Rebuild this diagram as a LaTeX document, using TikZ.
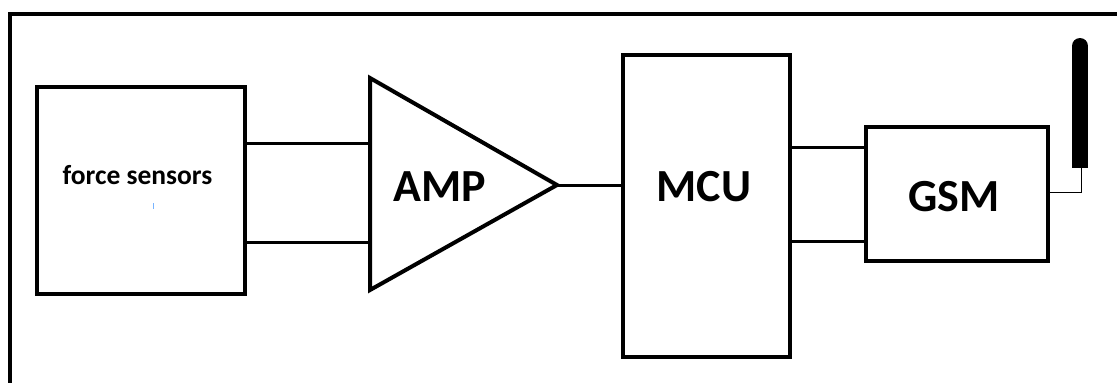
\documentclass[tikz,border=0pt]{standalone}
\usepackage{fontspec}
\setmainfont{Carlito}
\begin{document}
\begin{tikzpicture}[x=1pt,y=-1pt,
  blk/.style={draw=black,line width=4pt,fill=white,inner sep=0pt},
  wire/.style={draw=black,line width=3pt},
  biglbl/.style={font=\fontsize{46}{46}\selectfont\bfseries},
  smalllbl/.style={font=\fontsize{27.5}{27.5}\selectfont\bfseries}]
\useasboundingbox (0,0) rectangle (1117,383);
% outer frame (only left and top edges visible)
\draw[line width=4pt] (10,390) -- (10,13.5) -- (1125,13.5);
% blocks
\node[blk,minimum width=208pt,minimum height=207pt] (fs) at (141,190.5) {};
\node[smalllbl] (fstxt) at (137.5,175) {force sensors};
\draw[draw={rgb,255:red,120;green,180;blue,255},line width=1pt] (153,203) -- (153,209);
\coordinate (ampTop) at (370,78);
\coordinate (ampBot) at (370,290);
\coordinate (ampTip) at (557,185);
\draw[line width=4pt,line join=miter,fill=white] (ampTop) -- (ampTip) -- (ampBot) -- cycle;
\node[biglbl] (amp) at (440,187) {AMP};
\node[blk,minimum width=167pt,minimum height=302pt] (mcu) at (706.5,206) {};
\node[biglbl] (mcutxt) at (704,187) {MCU};
\node[blk,minimum width=182pt,minimum height=134pt] (gsm) at (957,194) {};
\node[biglbl] (gsmtxt) at (954,197) {GSM};
% connectors
\coordinate (a1) at (370,143.5);
\coordinate (a2) at (370,242);
\draw[wire] (fs.east |- a1) -- (a1);
\draw[wire] (fs.east |- a2) -- (a2);
\draw[wire] (ampTip) -- (mcu.west |- ampTip);
\coordinate (g1) at (866,147);
\coordinate (g2) at (866,241);
\draw[wire] (mcu.east |- g1) -- (gsm.west |- g1);
\draw[wire] (mcu.east |- g2) -- (gsm.west |- g2);
% antenna
\coordinate (antTop) at (1080,46);
\coordinate (antBot) at (1080,168);
\draw[line width=16pt,line cap=round] (antTop) -- (1080,160);
\fill (1072,150) rectangle (1088,168);
\coordinate (antFoot) at (1081,192);
\draw[line width=1pt] (1081,168) -- (antFoot) -- (gsm.east |- antFoot);
\end{tikzpicture}
\end{document}
